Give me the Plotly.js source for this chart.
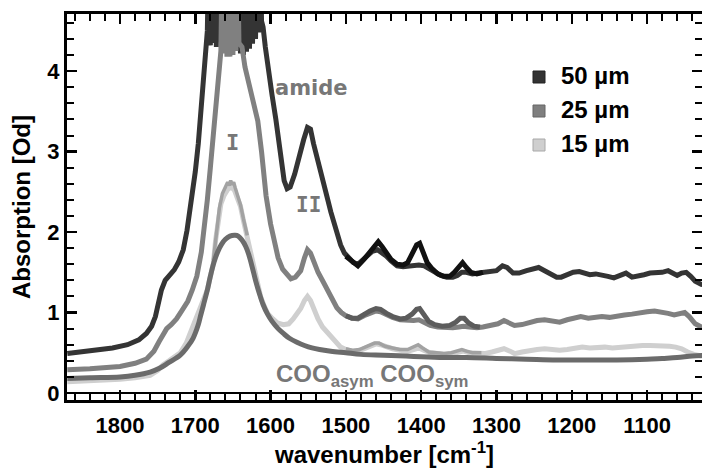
<!DOCTYPE html>
<html>
<head>
<meta charset="utf-8">
<script src="https://cdn.plot.ly/plotly-3.0.1.min.js"></script>
<style>
  html, body { margin: 0; padding: 0; background: #fff; }
  #chart { width: 702px; height: 468px; }
</style>
</head>
<body>
<div id="chart"></div>
<script>
// IR absorption spectra of films of three thicknesses (amide I / II region)

// 50 µm film (detector saturates across the amide I maximum)
const wn50 = [1870,1840,1810,1790,1775,1765,1758,1753,1749,1745,1740,1734,1728,1722,1716,1711,1706,1700,1696,1693,1689,1686,
  1684,1682,1680,1678,1676,1674,1672,1670,1668,1666,1664,1662,1660,1658,1656,1654,1652,1650,1648,1646,1644,1642,1640,1638,1636,1634,1632,1630,1628,1626,1624,1622,1620,1618,1616,1614,1612,
  1610,1607,1603,1598,1593,1587,1582,1578,1574,1568,1562,1556,1551,1547,1543,1538,1533,1528,1524,1520,1516,1512,1507,1502,1496,1490,1484,1478,1471,1465,1458,1452,1446,1440,1432,1424,1417,1410,1403,1396,1390,1382,1374,1366,1358,1352,1346,1340,1332,1324,1316,1308,1300,1292,1286,1278,1270,1260,1250,1244,1236,1228,1220,1214,1206,1198,1190,1182,1176,1168,1160,1152,1144,1136,1128,1120,1112,1104,1096,1088,1080,1072,1066,1060,1054,1048,1042,1036,1028,1020];
const abs50 = [0.49,0.52,0.56,0.60,0.66,0.74,0.83,0.95,1.12,1.28,1.40,1.46,1.53,1.63,1.78,2.02,2.32,2.75,3.10,3.43,3.89,4.20,
  4.50,5.60,4.32,5.60,4.35,5.60,4.30,5.60,4.36,5.60,4.30,5.60,4.33,5.60,4.30,5.60,4.34,5.60,4.30,5.60,4.28,5.60,4.22,5.60,4.20,5.60,4.24,5.60,4.28,5.60,4.34,5.60,4.40,5.60,4.48,5.60,4.62,
  4.55,4.30,4.00,3.70,3.40,2.92,2.64,2.54,2.56,2.72,2.95,3.15,3.30,3.28,3.10,2.90,2.72,2.55,2.40,2.25,2.12,1.98,1.84,1.74,1.67,1.62,1.60,1.65,1.72,1.76,1.78,1.74,1.70,1.64,1.58,1.57,1.58,1.59,1.59,1.58,1.55,1.50,1.46,1.44,1.44,1.46,1.50,1.50,1.48,1.49,1.50,1.51,1.52,1.58,1.56,1.49,1.49,1.52,1.55,1.56,1.52,1.48,1.44,1.44,1.47,1.50,1.51,1.48,1.47,1.48,1.47,1.45,1.43,1.46,1.49,1.44,1.45,1.47,1.49,1.49,1.50,1.52,1.49,1.46,1.49,1.50,1.45,1.39,1.35,1.34];
// second 50 µm spectrum, where it departs from the first
const wn50b = [1500,1490,1484,1476,1468,1462,1457,1452,1446,1440,1432,1424,1418,1412,1406,1402,1398,1392,1386,1378,1370,1362,1356,1350,1345,1340,1334,1326,1318];
const abs50b = [1.70,1.62,1.58,1.66,1.76,1.84,1.88,1.82,1.74,1.66,1.60,1.59,1.62,1.72,1.84,1.86,1.76,1.62,1.55,1.48,1.45,1.45,1.50,1.58,1.62,1.56,1.50,1.48,1.50];

// 25 µm film
const wn25 = [1870,1840,1800,1780,1765,1755,1748,1742,1738,1732,1725,1718,1710,1704,1698,1692,1688,1684,1680,1676,1672,1669,
  1666,1664,1662,1660,1658,1656,1654,1652,1650,1648,1646,1644,1642,
  1638,1634,1629,1624,1620,1617,1612,1606,1600,1595,1590,1584,1578,1573,1567,1560,1555,1551,1547,1542,1537,1530,1524,1518,1512,1506,1500,1492,1484,1476,1468,1460,1454,1446,1438,1428,1418,1410,1403,1396,1388,1378,1368,1358,1350,1344,1336,1326,1318,1308,1298,1290,1282,1276,1266,1256,1246,1236,1226,1216,1206,1196,1188,1178,1168,1160,1150,1140,1130,1120,1110,1100,1090,1080,1072,1064,1056,1050,1044,1036,1028,1020];
const abs25 = [0.29,0.30,0.33,0.37,0.42,0.52,0.64,0.74,0.80,0.85,0.92,1.02,1.14,1.28,1.45,1.75,2.05,2.40,2.80,3.22,3.60,3.92,
  4.25,5.60,4.22,5.60,4.18,5.60,4.18,5.60,4.20,5.60,4.25,5.60,4.35,
  4.30,4.05,3.85,3.65,3.50,3.38,3.00,2.45,2.10,1.86,1.68,1.54,1.46,1.42,1.44,1.52,1.68,1.78,1.74,1.60,1.50,1.38,1.27,1.14,1.06,1.00,0.96,0.93,0.92,0.96,0.99,1.02,1.01,0.97,0.94,0.91,0.90,0.90,0.91,0.88,0.84,0.82,0.81,0.81,0.82,0.83,0.82,0.81,0.82,0.84,0.86,0.90,0.87,0.84,0.85,0.88,0.90,0.91,0.89,0.88,0.91,0.94,0.95,0.93,0.94,0.95,0.94,0.96,0.97,0.98,1.00,1.01,1.02,1.01,0.99,0.97,0.99,1.00,0.95,0.86,0.82,0.81];
const wn25b = [1500,1492,1484,1476,1468,1460,1454,1446,1438,1428,1420,1412,1406,1402,1397,1390,1382,1372,1362,1354,1348,1343,1337,1330,1322];
const abs25b = [0.96,0.93,0.93,0.98,1.02,1.05,1.04,0.99,0.95,0.92,0.93,0.98,1.04,1.05,0.98,0.89,0.85,0.83,0.84,0.88,0.93,0.93,0.87,0.83,0.82];

// 15 µm film
const wn15 = [1870,1840,1800,1780,1760,1750,1743,1735,1728,1720,1712,1704,1697,1690,1684,1680,1676,1673,1670,1666,1662,1657,1652,1648,1644,1640,1636,1631,1626,1622,1617,1613,1608,1604,1597,1591,1583,1576,1570,1565,1560,1555,1551,1547,1542,1537,1531,1524,1516,1507,1500,1492,1484,1476,1468,1460,1454,1446,1438,1428,1418,1410,1403,1396,1388,1378,1368,1358,1350,1344,1336,1326,1316,1306,1296,1290,1282,1276,1266,1256,1246,1236,1226,1216,1206,1196,1186,1176,1166,1156,1146,1136,1126,1116,1106,1096,1088,1080,1070,1062,1054,1046,1038,1028,1020];
const abs15 = [0.14,0.15,0.17,0.19,0.22,0.28,0.35,0.40,0.45,0.50,0.62,0.80,0.95,1.12,1.28,1.45,1.61,1.90,2.15,2.35,2.45,2.53,2.56,2.52,2.42,2.32,2.14,1.94,1.72,1.53,1.35,1.19,1.07,0.99,0.92,0.87,0.85,0.86,0.92,0.98,1.05,1.15,1.20,1.15,1.03,0.92,0.82,0.74,0.66,0.57,0.54,0.52,0.52,0.55,0.58,0.61,0.60,0.57,0.55,0.53,0.52,0.54,0.56,0.53,0.50,0.49,0.48,0.49,0.50,0.52,0.50,0.49,0.49,0.51,0.53,0.55,0.52,0.49,0.51,0.53,0.54,0.55,0.54,0.53,0.54,0.56,0.57,0.56,0.57,0.57,0.56,0.57,0.57,0.58,0.59,0.59,0.59,0.58,0.58,0.57,0.55,0.51,0.48,0.46,0.45];
const wn15b = [1676,1672,1668,1664,1660,1657,1655,1653,1651,1649,1647,1644,1640,1636,1631,null,
  1500,1490,1482,1472,1462,1456,1448,1438,1428,1418,1410,1404,1398,1390,1380,1370,1360,1352,1346,1340,1332,1320];
const abs15b = [1.65,1.95,2.30,2.48,2.56,2.62,2.58,2.64,2.59,2.62,2.55,2.46,2.34,2.16,1.96,null,
  0.55,0.53,0.54,0.58,0.62,0.62,0.58,0.56,0.54,0.54,0.57,0.60,0.56,0.51,0.50,0.49,0.50,0.52,0.54,0.52,0.50,0.50];

// smooth band-shape fit of the amide I absorption
const wnFit = [1870,1840,1800,1780,1760,1747,1735,1720,1710,1703,1696,1693,1689,1684,1680,1675,1670,1665,1660,1654,1647,1643,1638,1633,1629,1624,1620,1615,1610,1604,1598,1590,1583,1575,1565,1555,1545,1535,1520,1500,1480,1450,1420,1400,1370,1340,1300,1260,1220,1180,1140,1100,1080,1060,1040,1020];
const absFit = [0.18,0.19,0.20,0.22,0.26,0.31,0.38,0.47,0.58,0.68,0.85,0.96,1.10,1.28,1.45,1.63,1.76,1.85,1.91,1.95,1.96,1.95,1.90,1.82,1.72,1.55,1.40,1.24,1.10,0.98,0.89,0.80,0.74,0.68,0.63,0.59,0.56,0.54,0.52,0.50,0.48,0.47,0.46,0.45,0.44,0.44,0.43,0.42,0.41,0.41,0.41,0.42,0.43,0.44,0.46,0.47];

// legend entries
const legendLabels = ['50 µm', '25 µm', '15 µm'];
const legendFill = ['#333333', '#7f7f7f', '#cfcfcf'];
const legendEdge = ['#222222', '#666666', '#a8a8a8'];

const LW = 5;
function line(x, y, color, width, shape) {
  return { x: x, y: y, type: 'scatter', mode: 'lines', connectgaps: false,
           line: { color: color, width: width || LW, shape: shape || 'linear' },
           hoverinfo: 'skip', showlegend: false };
}

const traces = [
  line(wn50, abs50, '#343434'),
  line(wn50b, abs50b, '#111111'),
  line(wn25, abs25, '#808080'),
  line(wn25b, abs25b, '#5c5c5c'),
  line(wn15, abs15, '#cfcfcf'),
  line(wn15b, abs15b, '#a2a2a2', 3.5),
  line(wnFit, absFit, '#6b6b6b', LW, 'spline')
];

const sans = 'Liberation Sans, Arial, sans-serif';
const labelGray = '#777777';

const annotations = [
  { x: 1546, y: 3.79, text: 'amide', font: { family: 'DejaVu Sans, sans-serif', size: 21, weight: 'bold', color: labelGray } },
  { x: 1651, y: 3.11, text: 'I', font: { family: 'DejaVu Sans Mono, monospace', size: 22, weight: 'bold', color: labelGray } },
  { x: 1549, y: 2.34, text: 'II', font: { family: 'DejaVu Sans Mono, monospace', size: 21, weight: 'bold', color: labelGray } },
  { x: 1596, y: 0.22, xanchor: 'left', yanchor: 'middle',
    text: 'COO<sub>asym</sub> COO<sub>sym</sub>', font: { family: sans, size: 24, weight: 'bold', color: labelGray } }
].map(a => Object.assign({ xref: 'x', yref: 'y', showarrow: false }, a));

const shapes = [];
const legX = (539 - 67) / 635, legY0 = (400 - 77) / 386, legStep = 34 / 386;
legendLabels.forEach((lab, i) => {
  const yc = legY0 - i * legStep;
  shapes.push({ type: 'rect', xref: 'paper', yref: 'paper',
    xsizemode: 'pixel', ysizemode: 'pixel', xanchor: legX, yanchor: yc,
    x0: -6, x1: 6, y0: -6, y1: 6,
    fillcolor: legendFill[i], line: { color: legendEdge[i], width: 1 } });
  annotations.push({ xref: 'paper', yref: 'paper', x: legX + 20 / 635, y: yc + 2 / 386,
    xanchor: 'left', yanchor: 'middle', showarrow: false, text: lab,
    font: { family: sans, size: 24, weight: 'bold', color: '#000' } });
});

const axisCommon = {
  showgrid: false, showline: true, linecolor: '#000', linewidth: 3, mirror: 'ticks',
  ticks: 'inside', ticklen: 10, tickwidth: 2.5, tickcolor: '#000',
  tickfont: { family: sans, size: 22, weight: 'bold', color: '#000' }
};

const layout = {
  width: 702, height: 468,
  margin: { l: 67, r: 0, t: 14, b: 68 },
  paper_bgcolor: '#ffffff', plot_bgcolor: '#ffffff',
  showlegend: false,
  xaxis: Object.assign({}, axisCommon, {
    range: [1870.4, 1027], tickmode: 'linear', tick0: 1000, dtick: 100, zeroline: false,
    ticklabelstandoff: 4,
    minor: { ticks: 'inside', ticklen: 7, tickwidth: 2, tickcolor: '#000', dtick: 20, tick0: 1000, showgrid: false },
    title: { text: 'wavenumber [cm<sup>-1</sup>]', font: { family: sans, size: 24, weight: 'bold', color: '#000' }, standoff: 8 }
  }),
  yaxis: Object.assign({}, axisCommon, {
    range: [-0.087, 4.71], tickmode: 'linear', tick0: 0, dtick: 1,
    zeroline: true, zerolinecolor: '#000', zerolinewidth: 2.5,
    minor: { ticks: 'inside', ticklen: 7, tickwidth: 2, tickcolor: '#000', dtick: 0.2, tick0: 0, showgrid: false },
    title: { text: 'Absorption [Od]', font: { family: sans, size: 24, weight: 'bold', color: '#000' }, standoff: 10 }
  }),
  annotations: annotations,
  shapes: shapes
};

Plotly.newPlot('chart', traces, layout, { staticPlot: true, displayModeBar: false });
</script>
</body>
</html>
